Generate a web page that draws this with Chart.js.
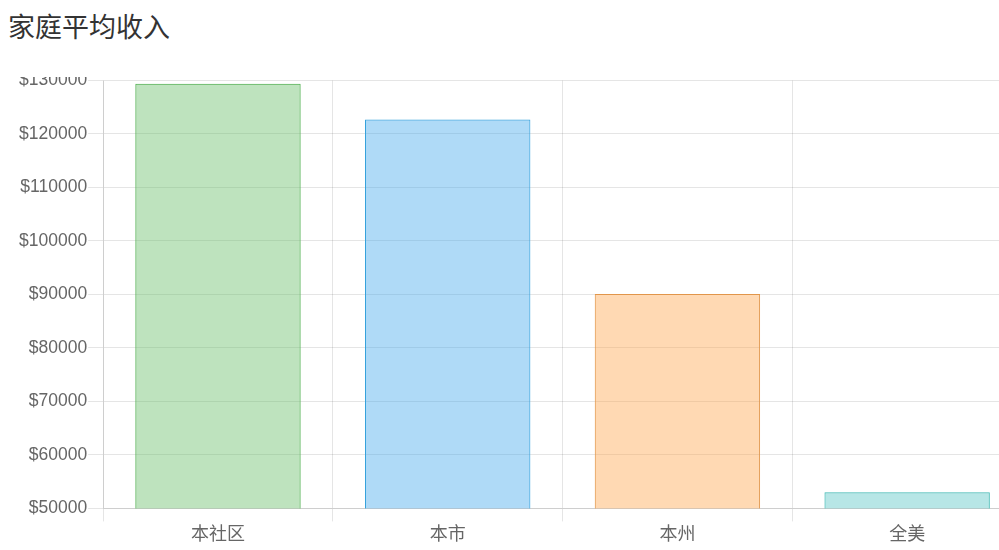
<!DOCTYPE html>
<html>
<head>
<meta charset="utf-8">
<script src="https://cdn.jsdelivr.net/npm/chart.js@4/dist/chart.umd.min.js"></script>
<style>
  html, body { margin: 0; padding: 0; width: 999px; height: 550px; overflow: hidden; background: #fff; }
  #title { position: absolute; left: 8px; top: 6px; font-family: "Noto Sans CJK SC", sans-serif; font-size: 27px; color: #333; line-height: 40px; }
  #wrap { position: absolute; left: 0; top: 77px; width: 999px; height: 473px; overflow: hidden; }
  #c { position: absolute; left: 0; top: -8px; }
</style>
</head>
<body>
<div id="title">家庭平均收入</div>
<div id="wrap"><canvas id="c" width="1022" height="476"></canvas></div>
<script>
const categories = ["本社区", "本市", "本州", "全美"];
const incomes = [129400, 122700, 90100, 53000];
const yMin = 50000;
const yMax = 130000;
const yStep = 10000;
const fillColors = ["rgba(92,184,92,0.4)", "rgba(54,162,235,0.4)", "rgba(255,159,64,0.4)", "rgba(75,192,192,0.4)"];
const borderColors = ["rgb(80,175,80)", "rgb(54,162,220)", "rgb(225,150,75)", "rgb(65,185,180)"];

new Chart(document.getElementById('c'), {
  type: 'bar',
  data: {
    labels: categories,
    datasets: [{
      data: incomes,
      backgroundColor: fillColors,
      borderColor: borderColors,
      borderWidth: 1
    }]
  },
  options: {
    responsive: false,
    animation: false,
    layout: { padding: { left: 18, right: 0, top: 0, bottom: 0 } },
    plugins: { legend: { display: false }, tooltip: { enabled: false } },
    scales: {
      x: {
        grid: { color: 'rgba(0,0,0,0.1)', tickLength: 13, offset: true },
        ticks: { color: '#666', padding: 1, font: { family: '"Noto Sans CJK SC", sans-serif', size: 18 } }
      },
      y: {
        min: yMin,
        max: yMax,
        grid: { color: 'rgba(0,0,0,0.1)', tickLength: 15 },
        ticks: {
          stepSize: yStep,
          color: '#666',
          padding: 1,
          font: { family: '"Liberation Sans", Arial, sans-serif', size: 17.5 },
          callback: v => '$' + v
        }
      }
    }
  }
});
</script>
</body>
</html>
